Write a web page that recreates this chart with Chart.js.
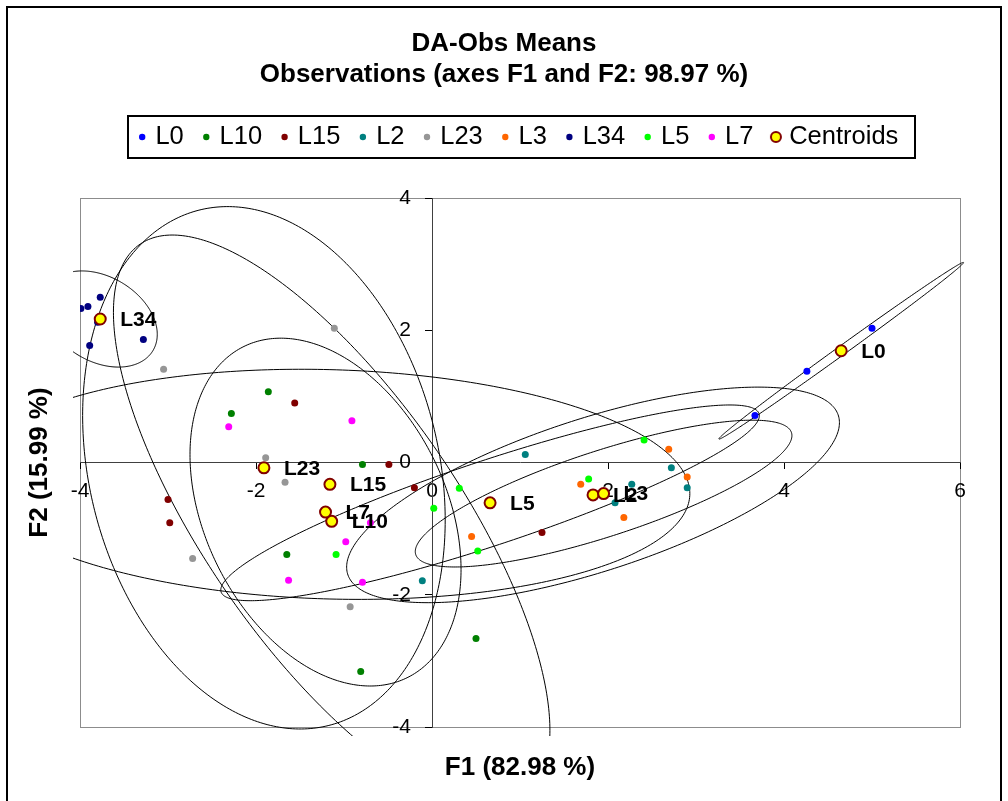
<!DOCTYPE html>
<html><head><meta charset="utf-8">
<script src="https://cdn.jsdelivr.net/npm/chart.js@4.4.1/dist/chart.umd.min.js"></script>
<style>html,body{margin:0;padding:0;background:#fff;}canvas{display:block;}</style>
</head><body>
<canvas id="c" width="1008" height="801"></canvas>
<script>
// ---- data ----
const groups = ['L0','L10','L15','L2','L23','L3','L34','L5','L7'];
const colors = ['#0000FF','#008000','#800000','#008080','#969696','#FF6600','#000080','#00FF00','#FF00FF'];
const L0_x  = [5.00, 4.26, 3.67];
const L0_y  = [2.03, 1.38, 0.71];
const L10_x = [-1.86, -2.28, -0.79, -1.65, -0.81, 0.50];
const L10_y = [1.07, 0.74, -0.03, -1.39, -3.16, -2.66];
const L15_x = [-1.56, -0.49, -0.20, -3.00, -2.98, 1.25];
const L15_y = [0.90, -0.03, -0.38, -0.56, -0.91, -1.06];
const L2_x  = [1.06, 2.72, 2.90, 2.27, 2.08, -0.11];
const L2_y  = [0.12, -0.08, -0.38, -0.33, -0.61, -1.79];
const L23_x = [-3.05, -1.11, -1.89, -1.67, -2.72, -0.93];
const L23_y = [1.41, 2.03, 0.07, -0.30, -1.45, -2.18];
const L3_x  = [1.69, 2.69, 2.90, 2.18, 0.45];
const L3_y  = [-0.33, 0.20, -0.22, -0.83, -1.12];
const L34_x = [-3.77, -3.91, -3.99, -3.80, -3.89, -3.28];
const L34_y = [2.50, 2.36, 2.33, 2.12, 1.77, 1.86];
const L5_x  = [-1.09, 0.02, 0.31, 0.52, 1.78, 2.41];
const L5_y  = [-1.39, -0.69, -0.39, -1.34, -0.25, 0.34];
const L7_x  = [-2.31, -0.91, -0.70, -0.98, -1.63, -0.79];
const L7_y  = [0.54, 0.63, -0.91, -1.20, -1.78, -1.81];
// centroids (same order as groups)
const centroidX = [4.65, -1.14, -1.16, 1.83, -1.91, 1.95, -3.77, 0.66, -1.21];
const centroidY = [1.69, -0.89, -0.33, -0.49, -0.08, -0.47, 2.17, -0.61, -0.75];
// confidence ellipses: half-extent along F1, half-extent along F2, correlation
const ellSx = [1.39, 2.48, 4.09, 2.80, 2.06, 2.14, 0.648, 3.06, 1.54];
const ellSy = [1.336, 4.33, 1.74, 1.63, 3.95, 1.11, 0.727, 1.48, 2.63];
const ellR  = [0.998, -0.73, -0.08, 0.67, -0.20, 0.79, -0.32, 0.89, -0.33];
const xTicks = [-4, -2, 0, 2, 4, 6];
const yTicks = [-4, -2, 0, 2, 4];
const titleLines = ['DA-Obs Means', 'Observations (axes F1 and F2: 98.97 %)'];
const xTitle = 'F1 (82.98 %)';
const yTitle = 'F2 (15.99 %)';

const seriesX = [L0_x, L10_x, L15_x, L2_x, L23_x, L3_x, L34_x, L5_x, L7_x];
const seriesY = [L0_y, L10_y, L15_y, L2_y, L23_y, L3_y, L34_y, L5_y, L7_y];

const FONT = "'Liberation Sans', Arial, sans-serif";
Chart.defaults.font.family = FONT;
Chart.defaults.color = '#000';

const datasets = groups.map((g, i) => ({
  label: g,
  data: seriesX[i].map((v, k) => ({x: v, y: seriesY[i][k]})),
  backgroundColor: colors[i],
  borderColor: colors[i],
  pointRadius: 3.5,
  pointBorderWidth: 0,
  pointHoverRadius: 3.5,
  xAxisID: 'x', yAxisID: 'y'
}));
datasets.push({
  label: 'Centroids',
  data: centroidX.map((v, k) => ({x: v, y: centroidY[k]})),
  backgroundColor: '#FFFF00',
  borderColor: '#800000',
  pointRadius: 5.5,
  pointBorderWidth: 2,
  pointHoverRadius: 5.5,
  order: -1,
  xAxisID: 'x', yAxisID: 'y'
});

// legend marker for centroids
const cMark = document.createElement('canvas');
cMark.width = 14; cMark.height = 14;
(function(){const g = cMark.getContext('2d');g.beginPath();g.arc(7,7,5,0,Math.PI*2);g.fillStyle='#FFFF00';g.fill();g.lineWidth=2;g.strokeStyle='#800000';g.stroke();})();

const framePlugin = {
  id: 'frame',
  beforeDraw(chart) {
    const {ctx, chartArea: a} = chart;
    ctx.save();
    ctx.fillStyle = '#fff';
    ctx.fillRect(0, 0, chart.width, chart.height);
    ctx.strokeStyle = '#000'; ctx.lineWidth = 2;
    ctx.strokeRect(7, 7, 994, 810);
    ctx.strokeStyle = '#8c8c8c'; ctx.lineWidth = 1;
    ctx.strokeRect(Math.round(a.left) + 0.5, Math.round(a.top) + 0.5, Math.round(a.right - a.left), Math.round(a.bottom - a.top));
    ctx.restore();
  }
};

// y tick labels placed left of the centred vertical axis
const yLabelPlugin = {
  id: 'yLabels',
  afterDraw(chart) {
    const {ctx, scales} = chart;
    const ax = scales.x.getPixelForValue(0);
    ctx.save();
    ctx.font = '21px ' + FONT;
    ctx.fillStyle = '#000';
    ctx.textAlign = 'right'; ctx.textBaseline = 'middle';
    scales.y.ticks.forEach(t => {
      ctx.fillText(String(t.value), ax - 21, scales.y.getPixelForValue(t.value));
    });
    ctx.restore();
  }
};

const ellipsePlugin = {
  id: 'ellipses',
  beforeDatasetsDraw(chart) {
    const {ctx, chartArea: a, scales} = chart;
    const xs = scales.x, ys = scales.y;
    ctx.save();
    ctx.beginPath();
    ctx.rect(a.left - 7, a.top - 8, a.right - a.left + 15, a.bottom - a.top + 17);
    ctx.clip();
    ctx.strokeStyle = '#000'; ctx.lineWidth = 1;
    groups.forEach((g, i) => {
      const cx = centroidX[i], cy = centroidY[i], sx = ellSx[i], sy = ellSy[i], r = ellR[i];
      const q = Math.sqrt(1 - r * r);
      ctx.beginPath();
      for (let k = 0; k <= 360; k++) {
        const t = k * Math.PI / 180;
        const px = xs.getPixelForValue(cx + sx * Math.cos(t));
        const py = ys.getPixelForValue(cy + sy * (r * Math.cos(t) + q * Math.sin(t)));
        if (k === 0) ctx.moveTo(px, py); else ctx.lineTo(px, py);
      }
      ctx.closePath();
      ctx.stroke();
    });
    ctx.restore();
  }
};

const labelPlugin = {
  id: 'centroidLabels',
  afterDatasetsDraw(chart) {
    const {ctx, scales} = chart;
    ctx.save();
    ctx.font = 'bold 21px ' + FONT;
    ctx.fillStyle = '#000';
    ctx.textAlign = 'left'; ctx.textBaseline = 'middle';
    groups.forEach((g, i) => {
      const px = scales.x.getPixelForValue(centroidX[i]);
      const py = scales.y.getPixelForValue(centroidY[i]);
      ctx.fillText(g, px + 20, py + 1);
    });
    ctx.restore();
  }
};

const legendBoxPlugin = {
  id: 'legendBox',
  afterDraw(chart) {
    const lg = chart.legend;
    if (!lg || !lg.legendHitBoxes || !lg.legendHitBoxes.length) return;
    const hb = lg.legendHitBoxes;
    const f = hb[0], l = hb[hb.length - 1];
    const cy = f.top + f.height / 2;
    const left = f.left - 14, right = l.left + l.width + 16;
    const ctx = chart.ctx;
    ctx.save();
    ctx.strokeStyle = '#000'; ctx.lineWidth = 2;
    ctx.strokeRect(Math.round(left), Math.round(cy - 21), Math.round(right - left), 42);
    ctx.restore();
  }
};

const hiddenScale = (pos, size, title, pad) => ({
  type: 'linear', position: pos, display: true,
  grid: {display: false}, border: {display: false}, ticks: {display: false},
  title: title ? {display: true, text: title, color: '#000', font: {size: 26, weight: 'bold', lineHeight: 1.2}, padding: pad} : {display: false},
  afterFit(s) { if (pos === 'left' || pos === 'right') s.width = size; else s.height = size; }
});

new Chart(document.getElementById('c'), {
  type: 'scatter',
  data: {datasets},
  options: {
    responsive: false,
    animation: false,
    devicePixelRatio: 1,
    layout: {padding: 0},
    events: [],
    plugins: {
      title: {
        display: true, text: titleLines, color: '#000',
        font: {size: 26, weight: 'bold', lineHeight: 31 / 26},
        padding: {top: 28.5, bottom: 11.75}
      },
      legend: {
        display: true, position: 'top', fullSize: false,
        labels: {
          usePointStyle: true, boxWidth: 1, boxHeight: 4.5, padding: 22,
          font: {size: 25.5}, color: '#000',
          sort: (a, b) => a.datasetIndex - b.datasetIndex,
          generateLabels(chart) {
            const items = Chart.defaults.plugins.legend.labels.generateLabels(chart);
            items.forEach(it => {
              if (it.text === 'Centroids') it.pointStyle = cMark;
              else { it.pointStyle = 'circle'; it.lineWidth = 0; }
            });
            return items;
          }
        }
      },
      tooltip: {enabled: false}
    },
    scales: {
      x: {
        type: 'linear', position: {y: 0}, min: -4, max: 6,
        afterBuildTicks(s) { s.ticks = xTicks.map(v => ({value: v})); },
        grid: {display: true, drawOnChartArea: false, drawTicks: true, tickLength: 6, color: '#000'},
        border: {display: true, color: '#404040', width: 1},
        ticks: {font: {size: 21}, color: '#000', padding: 10, maxRotation: 0}
      },
      y: {
        type: 'linear', position: {x: 0}, min: -4, max: 4,
        afterBuildTicks(s) { s.ticks = yTicks.map(v => ({value: v})); },
        grid: {display: true, drawOnChartArea: false, drawTicks: true, tickLength: 7, color: '#000'},
        border: {display: true, color: '#404040', width: 1},
        ticks: {display: false}
      },
      padL: hiddenScale('left', 80, yTitle, {top: 24.4, bottom: 0}),
      padR: hiddenScale('right', 48, null, null),
      padT: hiddenScale('top', 38.25, null, null),
      padB: hiddenScale('bottom', 74, xTitle, {top: 0, bottom: 17.4})
    }
  },
  plugins: [framePlugin, ellipsePlugin, labelPlugin, yLabelPlugin, legendBoxPlugin]
});
</script>
</body></html>
